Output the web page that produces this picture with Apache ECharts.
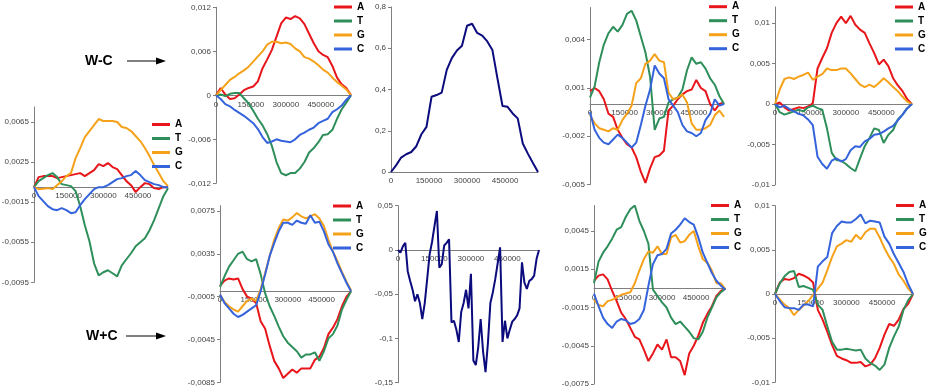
<!DOCTYPE html>
<html><head><meta charset="utf-8">
<script src="https://cdn.jsdelivr.net/npm/echarts@6/dist/echarts.min.js"></script>
<style>html,body{margin:0;padding:0;background:#fff}#c{width:929px;height:392px}</style>
</head><body><div id="c"></div>
<script>
// genome positions (bp) at which the cumulative skews were read
const POS20 = [0,20000,40000,60000,80000,100000,120000,140000,160000,180000,200000,220000,240000,260000,280000,300000,320000,340000,360000,380000,400000,420000,440000,460000,480000,500000,520000,540000,560000,580000];
const POS10 = [0,10000,20000,30000,40000,50000,60000,70000,80000,90000,100000,110000,120000,130000,140000,150000,160000,170000,180000,190000,200000,210000,220000,230000,240000,250000,260000,270000,280000,290000,300000,310000,320000,330000,340000,350000,360000,370000,380000,390000,400000,410000,420000,430000,440000,450000,460000,470000,480000,490000,500000,510000,520000,530000,540000,550000,560000,570000,580000];
const X_TICKS = [0,150000,300000,450000];
const X_MAX = 580000;
const NAMES = ['A','T','G','C'];

// Panel 1 (left)
const P1_A = [0,0.001,0.0011,0.0011,0.0011,0.0009,0.001,0.0011,0.0012,0.0013,0.0014,0.0011,0.0014,0.0017,0.0023,0.0021,0.0024,0.002,0.0018,0.0012,0.0006,0.0002,-0.0005,0,0.0004,0.0003,-0.0001,-0.0002,0,0];
const P1_T = [0,0.0006,0.0009,0.0012,0.0014,0.001,0.0003,0.0002,0.0001,-0.0004,-0.0019,-0.0038,-0.0054,-0.0076,-0.0088,-0.0085,-0.0083,-0.0086,-0.0089,-0.0078,-0.0072,-0.0066,-0.0059,-0.0055,-0.0051,-0.0043,-0.0033,-0.0021,-0.0009,-0.0001];
const P1_G = [0,-0.0002,-0.00017,-0.0001,-0.0002,0.0002,0.0006,0.0011,0.0014,0.0029,0.0039,0.005,0.0056,0.0062,0.0068,0.0066,0.0066,0.0066,0.0065,0.006,0.0059,0.0056,0.0051,0.0046,0.0039,0.0031,0.0022,0.0014,0.0006,0.0001];
const P1_C = [0,-0.0009,-0.0014,-0.0019,-0.0022,-0.0023,-0.0021,-0.0023,-0.0026,-0.0025,-0.0018,-0.0012,-0.0007,-0.0002,0,0,0.0002,0.0005,0.0008,0.0009,0.0011,0.0012,0.0016,0.0012,0.0007,0.0005,0.0003,0.0002,0,0];
const P1_YT = [-0.0095,-0.0055,-0.0015,0.0025,0.0065];

// Panel 2 (top, W-C)
const P2_A = [0,0.001,0.0001,-0.0005,-0.0004,0.0001,0.0007,0.001,0.0012,0.0019,0.0037,0.0049,0.0062,0.008,0.0098,0.0106,0.0104,0.0108,0.0105,0.0097,0.0084,0.0071,0.006,0.0055,0.0052,0.004,0.0024,0.0015,0.001,0];
const P2_T = [0,0.0001,-0.0001,0.0002,0.0003,0.0003,-0.0004,-0.0011,-0.0021,-0.0032,-0.0041,-0.0053,-0.0069,-0.0091,-0.0106,-0.0109,-0.0106,-0.0106,-0.01,-0.0091,-0.0078,-0.0072,-0.0064,-0.0054,-0.0053,-0.0047,-0.0032,-0.0019,-0.001,0];
const P2_G = [0,0.0007,0.0014,0.0021,0.0025,0.003,0.0034,0.0039,0.0046,0.0053,0.006,0.0069,0.0073,0.0073,0.0071,0.0072,0.007,0.0064,0.006,0.0052,0.005,0.0046,0.0041,0.0035,0.0031,0.0024,0.0018,0.0013,0.0008,0];
const P2_C = [0,-0.0005,-0.0012,-0.0015,-0.002,-0.0024,-0.0028,-0.0033,-0.0038,-0.0046,-0.0057,-0.0065,-0.0063,-0.006,-0.0062,-0.0063,-0.0064,-0.006,-0.0054,-0.0051,-0.0047,-0.0044,-0.0038,-0.0035,-0.0032,-0.0023,-0.0019,-0.0014,-0.0006,0];
const P2_YT = [-0.012,-0.006,0,0.006,0.012];

// Panel 3 (top, single curve)
const P3_N = [0,0.032,0.07,0.086,0.097,0.125,0.183,0.219,0.365,0.373,0.385,0.495,0.552,0.589,0.612,0.709,0.719,0.674,0.661,0.633,0.592,0.454,0.32,0.316,0.284,0.26,0.138,0.089,0.044,0];
const P3_YT = [0,0.2,0.4,0.6,0.8];

// Panel 4
const P4_A = [0.0008,0.001,0.0008,0.0003,-0.0006,-0.0008,-0.0016,-0.0021,-0.0025,-0.0027,-0.0033,-0.0042,-0.0049,-0.004,-0.0033,-0.0032,-0.0029,-0.0004,-0.0001,0.0003,0.0006,0.0008,0.0009,0.0015,0.001,0.0008,0,-0.0004,0,0.0001];
const P4_T = [0.0004,0.0011,0.0026,0.0037,0.0044,0.0048,0.0045,0.0049,0.0056,0.0058,0.0052,0.0042,0.0032,0.0017,-0.0016,-0.0009,-0.0008,0.0001,0.0003,0.0004,0.0009,0.0021,0.0029,0.0025,0.0026,0.0022,0.0016,0.0012,0.0005,0];
const P4_G = [-0.0007,-0.0012,-0.0015,-0.0016,-0.0017,-0.0015,-0.0016,-0.001,-0.0006,-0.0001,0.0013,0.0016,0.0025,0.0027,0.0031,0.0027,0.0026,0.0007,0.0003,0.0004,0.0006,0.0001,-0.0012,-0.0016,-0.0016,-0.0015,-0.0013,-0.0007,-0.0004,-0.0008];
const P4_C = [-0.0005,-0.0016,-0.0021,-0.0024,-0.0025,-0.0022,-0.0019,-0.0021,-0.0024,-0.0027,-0.0024,-0.0013,-0.0001,0.0009,0.0024,0.0019,0.0016,0.0003,-0.0001,-0.0005,-0.0013,-0.0017,-0.0018,-0.002,-0.0018,-0.001,-0.0006,0.0003,-0.0001,0];
const P4_YT = [-0.005,-0.002,0.001,0.004];

// Panel 5
const P5_A = [0,0.0002,-0.0004,-0.0008,-0.0006,-0.0004,-0.0005,-0.0003,0.0001,0.0044,0.0057,0.0069,0.0088,0.01,0.0108,0.01,0.0109,0.0098,0.0092,0.0088,0.0075,0.0063,0.0049,0.0055,0.0047,0.0032,0.0023,0.0016,0.0006,0];
const P5_T = [0,-0.001,-0.0013,-0.0011,-0.0009,-0.0007,-0.0009,-0.0004,-0.0002,-0.0005,-0.0007,-0.003,-0.006,-0.0069,-0.007,-0.0074,-0.0079,-0.0083,-0.0067,-0.0052,-0.0042,-0.003,-0.0032,-0.0048,-0.0038,-0.0032,-0.0019,-0.0013,-0.0005,0];
const P5_G = [0,0.0018,0.0031,0.0033,0.0031,0.0034,0.0036,0.0039,0.003,0.0034,0.0037,0.0044,0.0042,0.0042,0.0044,0.0044,0.0038,0.0031,0.0024,0.0021,0.0024,0.0021,0.0026,0.0032,0.0027,0.0021,0.0016,0.0009,0.0003,0];
const P5_C = [0,-0.0004,-0.0002,-0.0006,-0.0009,-0.0012,-0.0014,-0.0019,-0.0026,-0.0065,-0.0074,-0.008,-0.007,-0.0067,-0.0071,-0.0068,-0.0057,-0.0052,-0.0053,-0.0046,-0.0043,-0.0038,-0.0037,-0.0034,-0.003,-0.0027,-0.002,-0.0013,-0.0005,0];
const P5_YT = [-0.01,-0.005,0,0.005,0.01];

// Panel 6 (bottom, W+C)
const P6_A = [0.0005,0.001,0.0012,0.0011,0.0012,0.0002,-0.0005,-0.0007,-0.0011,-0.0028,-0.0035,-0.0051,-0.0065,-0.0072,-0.0081,-0.0077,-0.0073,-0.0076,-0.0072,-0.0072,-0.0072,-0.0064,-0.0061,-0.0053,-0.004,-0.0034,-0.0026,-0.0014,-0.0005,0];
const P6_T = [0.0004,0.0014,0.0023,0.0029,0.0035,0.0037,0.003,0.0028,0.003,0.0016,-0.0002,-0.0014,-0.0023,-0.0033,-0.0042,-0.0048,-0.0052,-0.0056,-0.0062,-0.0059,-0.0059,-0.0057,-0.0065,-0.0056,-0.0044,-0.004,-0.0032,-0.0017,-0.0008,0];
const P6_G = [-0.0003,-0.001,-0.0014,-0.0017,-0.0019,-0.0014,-0.0009,-0.0007,-0.0009,0.0002,0.0017,0.0033,0.0048,0.0059,0.0067,0.0066,0.0069,0.0073,0.007,0.0068,0.007,0.0072,0.0068,0.0061,0.0048,0.0037,0.0028,0.0018,0.0009,0.0001];
const P6_C = [-0.0003,-0.0011,-0.0016,-0.0021,-0.0024,-0.0022,-0.0019,-0.0016,-0.0013,0,0.0016,0.0033,0.0045,0.0056,0.0064,0.0064,0.0062,0.0066,0.0064,0.0063,0.0071,0.0064,0.0065,0.0056,0.0044,0.0037,0.0026,0.0017,0.0008,0];
const P6_YT = [-0.0085,-0.0045,-0.0005,0.0035,0.0075];

// Panel 7 (bottom, single curve)
const P7_N = [0,-0.003,0.004,0.008,-0.024,-0.035,-0.045,-0.058,-0.05,-0.06,-0.078,-0.06,-0.033,-0.005,0.009,0.027,0.044,-0.02,-0.016,0.005,0.008,0.012,-0.082,-0.08,-0.09,-0.104,-0.07,-0.06,-0.045,-0.066,-0.027,-0.125,-0.13,-0.11,-0.078,-0.115,-0.138,-0.105,-0.06,-0.048,-0.033,-0.015,0.003,-0.104,-0.08,-0.1,-0.09,-0.081,-0.078,-0.074,-0.066,-0.014,-0.037,-0.044,-0.035,-0.033,-0.029,-0.01,0];
const P7_YT = [-0.15,-0.1,-0.05,0,0.05];

// Panel 8
const P8_A = [0.0006,0.001,0.0011,0.0007,-0.0002,-0.001,-0.0019,-0.0024,-0.0031,-0.0038,-0.004,-0.0048,-0.0057,-0.0051,-0.0044,-0.0048,-0.004,-0.0054,-0.0054,-0.0057,-0.0068,-0.0051,-0.0045,-0.0037,-0.0027,-0.002,-0.0014,-0.0006,-0.0002,0];
const P8_T = [0.0004,0.0021,0.0028,0.0033,0.0039,0.0046,0.0048,0.0056,0.0062,0.0065,0.0053,0.0045,0.0035,-0.0001,-0.0006,-0.0011,-0.0015,-0.0023,-0.0028,-0.0026,-0.003,-0.0034,-0.0039,-0.004,-0.0034,-0.0023,-0.0015,-0.0007,-0.0003,0];
const P8_G = [-0.0009,-0.0013,-0.0014,-0.001,-0.0009,-0.0007,-0.0005,-0.0004,-0.0003,0.0004,0.0014,0.0023,0.0029,0.0028,0.0033,0.0027,0.0027,0.004,0.0042,0.0036,0.0037,0.0042,0.0045,0.0033,0.0023,0.002,0.0014,0.0004,0.0004,-0.0001];
const P8_C = [-0.0004,-0.0014,-0.0023,-0.0028,-0.0031,-0.0026,-0.0024,-0.0025,-0.0028,-0.0027,-0.0024,-0.0017,0.0002,0.0019,0.0026,0.0027,0.0031,0.0043,0.0046,0.005,0.0055,0.0052,0.005,0.004,0.0028,0.002,0.0012,0.0006,0.0002,-0.0001];
const P8_YT = [-0.0075,-0.0045,-0.0015,0.0015,0.0045];

// Panel 9
const P9_A = [0,0.0013,0.0017,0.0016,0.0018,0.0023,0.0021,0.0018,0.0013,-0.0018,-0.0029,-0.0043,-0.0058,-0.007,-0.0073,-0.0075,-0.0078,-0.0078,-0.0077,-0.0082,-0.008,-0.0073,-0.0061,-0.0046,-0.0034,-0.0036,-0.0029,-0.0017,-0.0011,0];
const P9_T = [0,0.0012,0.002,0.0025,0.0026,0.0008,0.0009,0.0007,0.0005,-0.0012,-0.0018,-0.0037,-0.0054,-0.0063,-0.0063,-0.0062,-0.0063,-0.0064,-0.0063,-0.0073,-0.0078,-0.0081,-0.0086,-0.008,-0.0061,-0.0048,-0.0037,-0.0018,-0.0007,0];
const P9_G = [0,-0.0006,-0.0012,-0.0016,-0.0024,-0.0018,-0.0013,-0.0008,-0.0001,0.0006,0.0013,0.0027,0.0042,0.0054,0.0057,0.0061,0.0059,0.0067,0.0062,0.007,0.0074,0.0074,0.0064,0.0052,0.0042,0.0034,0.0022,0.0015,0.0006,0];
const P9_C = [0,-0.0008,-0.0015,-0.0016,-0.0016,-0.0018,-0.0012,-0.0012,-0.0014,0.0031,0.0037,0.0042,0.0069,0.0077,0.0082,0.0081,0.0081,0.0085,0.009,0.008,0.0083,0.0082,0.0081,0.0065,0.0057,0.0045,0.0035,0.0025,0.0011,0];
const P9_YT = [-0.01,-0.005,0,0.005,0.01];

const COLORS = {A:'#e8161b', T:'#2f8f5b', G:'#f5a21a', C:'#3563dc', N:'#0b0b7d'};
const FONT = 'Liberation Sans, Arial, Helvetica, sans-serif';

const panels = [
  {box:{left:34,top:107,width:134,height:175.3}, y:[-0.0095,0.008], yt:P1_YT, pos:POS20, lines:{A:P1_A,T:P1_T,G:P1_G,C:P1_C}, legend:{left:152,top:119}},
  {box:{left:216,top:7.3,width:135,height:176}, y:[-0.012,0.012], yt:P2_YT, pos:POS20, lines:{A:P2_A,T:P2_T,G:P2_G,C:P2_C}, legend:{left:334,top:1.5}},
  {box:{left:391,top:7,width:147,height:165}, y:[0,0.8], yt:P3_YT, pos:POS20, lines:{N:P3_N}},
  {box:{left:590,top:7.5,width:134,height:177}, y:[-0.005,0.006], yt:P4_YT, pos:POS20, lines:{A:P4_A,T:P4_T,G:P4_G,C:P4_C}, legend:{left:709,top:1.2}},
  {box:{left:775,top:7,width:137,height:178}, y:[-0.01,0.012], yt:P5_YT, pos:POS20, lines:{A:P5_A,T:P5_T,G:P5_G,C:P5_C}, legend:{left:895,top:1.5}},
  {box:{left:220,top:205.6,width:131,height:176.7}, y:[-0.0085,0.008], yt:P6_YT, pos:POS20, lines:{A:P6_A,T:P6_T,G:P6_G,C:P6_C}, legend:{left:333,top:200.5}},
  {box:{left:398,top:205.7,width:141,height:177}, y:[-0.15,0.05], yt:P7_YT, pos:POS10, lines:{N:P7_N}},
  {box:{left:594,top:205.5,width:131.5,height:178.5}, y:[-0.0075,0.0065], yt:P8_YT, pos:POS20, lines:{A:P8_A,T:P8_T,G:P8_G,C:P8_C}, legend:{left:711,top:200}},
  {box:{left:775,top:205.7,width:138,height:176.6}, y:[-0.01,0.01], yt:P9_YT, pos:POS20, lines:{A:P9_A,T:P9_T,G:P9_G,C:P9_C}, legend:{left:896,top:200}}
];

const fmt = v => String(v).replace('.', ',');
const grid = [], xAxis = [], yAxis = [], series = [], legend = [];
panels.forEach((p, i) => {
  grid.push(Object.assign({containLabel:false, outerBoundsMode:'none'}, p.box));
  // place the category (x) axis on the y = 0 line of this panel
  const zeroOffset = -p.box.height * (0 - p.y[0]) / (p.y[1] - p.y[0]);
  xAxis.push({type:'value', gridIndex:i, min:0, max:X_MAX, position:'bottom', offset:zeroOffset,
    axisLine:{onZero:false, lineStyle:{color:'#7f7f7f', width:1}},
    axisTick:{show:false}, splitLine:{show:false},
    axisLabel:{customValues:X_TICKS, formatter:v=>String(v), fontSize:8, color:'#444', fontFamily:FONT, margin:5}});
  yAxis.push({type:'value', gridIndex:i, min:p.y[0], max:p.y[1],
    axisLine:{show:true, onZero:false, lineStyle:{color:'#7f7f7f', width:1}},
    axisTick:{show:true, length:3, customValues:p.yt, lineStyle:{color:'#7f7f7f'}},
    splitLine:{show:false},
    axisLabel:{customValues:p.yt, formatter:fmt, fontSize:8, color:'#444', fontFamily:FONT, margin:5}});
  Object.keys(p.lines).forEach(k => {
    series.push({type:'line', name:k, xAxisIndex:i, yAxisIndex:i,
      data:p.pos.map((x, j) => [x, p.lines[k][j]]),
      showSymbol:false, symbol:'none', smooth:false,
      itemStyle:{color:COLORS[k]}, lineStyle:{color:COLORS[k], width:2},
      emphasis:{disabled:true}, animation:false});
  });
  if (p.legend) {
    legend.push({orient:'vertical', left:p.legend.left, top:p.legend.top, padding:0,
      itemGap:3, itemWidth:18, itemHeight:3, icon:'rect', selectedMode:false,
      data:NAMES, textStyle:{fontSize:10, fontWeight:'bold', color:'#000', fontFamily:FONT, lineHeight:11}});
  }
});

function arrow(x1, x2, y) {
  return [
    {type:'line', shape:{x1:x1, y1:y, x2:x2-6, y2:y}, style:{stroke:'#000', lineWidth:1}},
    {type:'polygon', shape:{points:[[x2-10, y-3.5],[x2, y],[x2-10, y+3.5]]}, style:{fill:'#000'}}
  ];
}

const chart = echarts.init(document.getElementById('c'), null, {renderer:'canvas'});
chart.setOption({
  animation:false,
  backgroundColor:'#fff',
  grid, xAxis, yAxis, series, legend,
  graphic:[
    {type:'text', x:85, y:61, style:{text:'W-C', font:'bold 14px ' + FONT, fill:'#000', verticalAlign:'middle'}},
    ...arrow(127, 166, 61),
    {type:'text', x:86, y:336, style:{text:'W+C', font:'bold 14px ' + FONT, fill:'#000', verticalAlign:'middle'}},
    ...arrow(126, 166, 336)
  ]
});
</script></body></html>
